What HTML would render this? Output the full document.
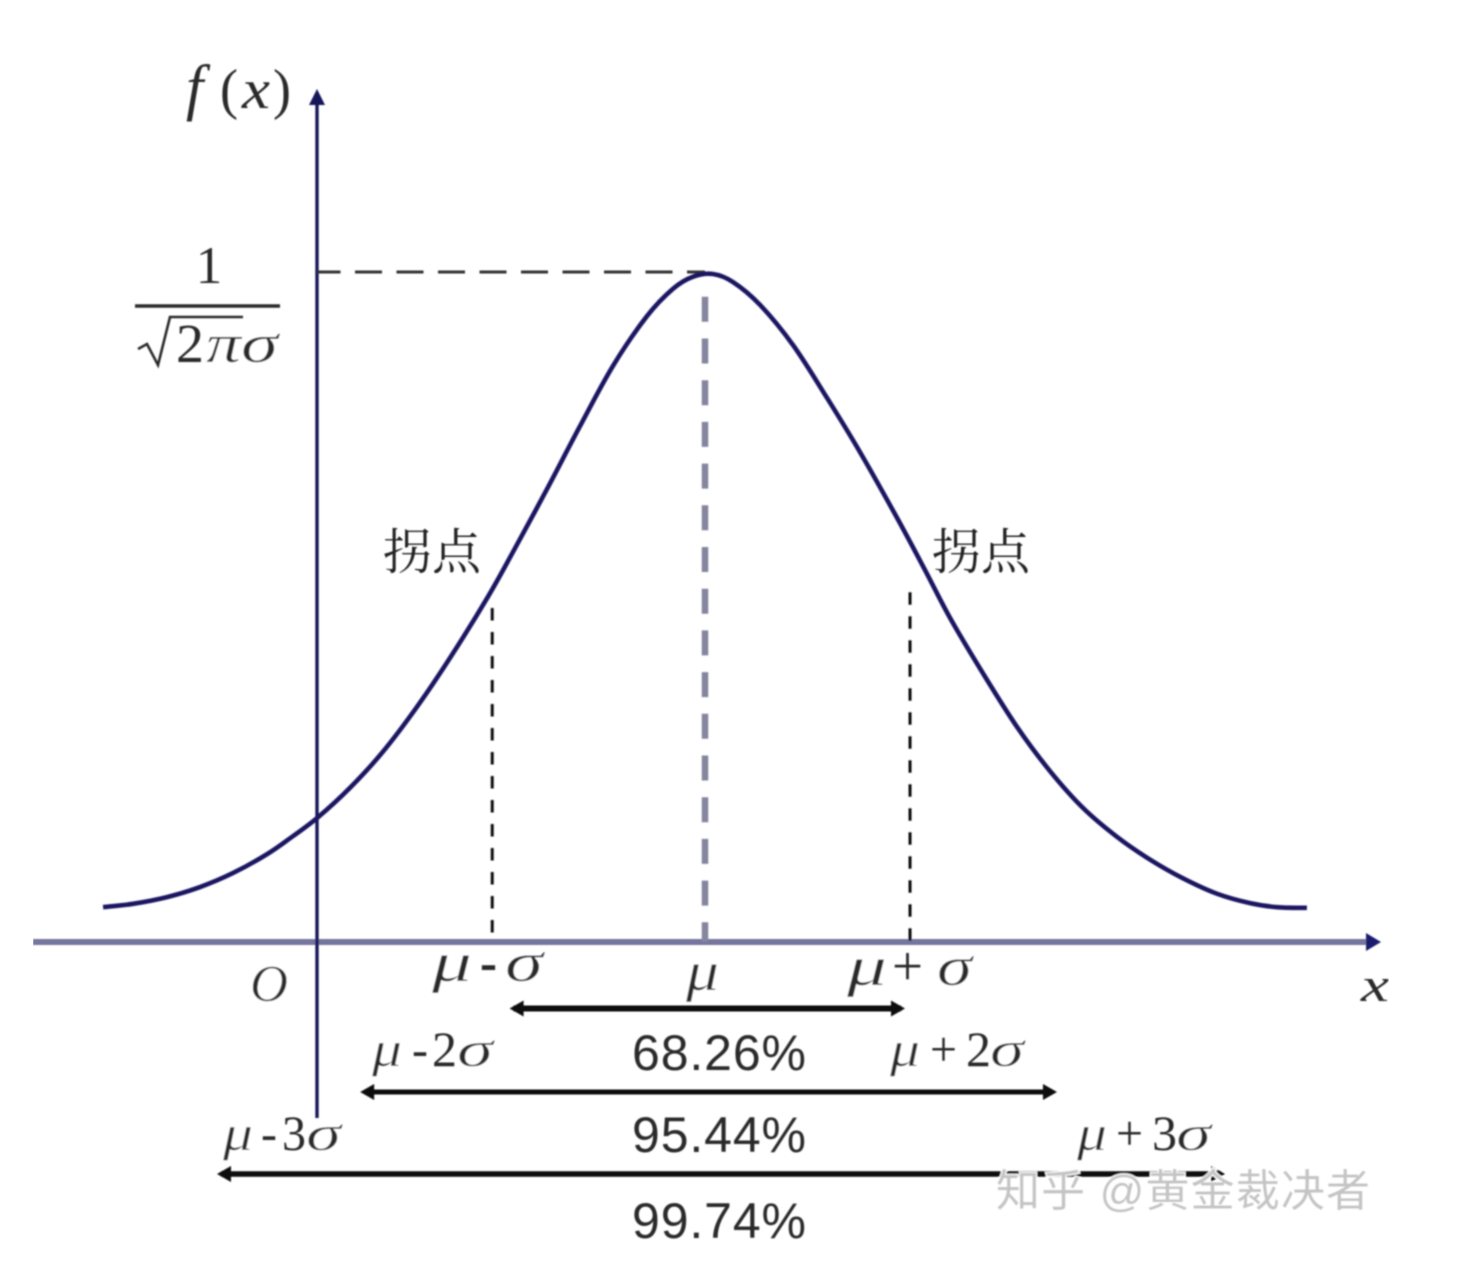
<!DOCTYPE html>
<html lang="zh">
<head>
<meta charset="utf-8">
<title>Normal distribution curve</title>
<style>
html,body{margin:0;padding:0;background:#fff;width:1476px;height:1276px;overflow:hidden}
svg{display:block}
.m{font-family:"Liberation Serif","Noto Serif CJK SC",serif;fill:#2a2a2a}
.i{font-style:italic;stroke:#fff;stroke-width:0.5px}
.p{font-family:"Liberation Sans","Noto Sans CJK SC",sans-serif;font-size:50px;fill:#2b2b2b}
.c{font-family:"Liberation Serif","Noto Serif CJK SC",serif;font-size:49px;fill:#222}
.t{font-size:56px}
.s{font-size:50px}
</style>
</head>
<body>
<svg id="chart" xmlns="http://www.w3.org/2000/svg" width="1476" height="1276" viewBox="0 0 1476 1276">
<defs>
<filter id="soft" x="0" y="0" width="100%" height="100%"><feGaussianBlur stdDeviation="0.8"/></filter>
</defs>
<g filter="url(#soft)">
<g id="marks"></g>

<g>
<text class="m" x="186" y="108" font-size="62" font-style="italic">f</text>
<text class="m" x="220" y="108" font-size="56" textLength="18" lengthAdjust="spacingAndGlyphs">(</text>
<text class="m" x="242" y="108" font-size="56" font-style="italic" textLength="28" lengthAdjust="spacingAndGlyphs">x</text>
<text class="m" x="273" y="108" font-size="56" textLength="18" lengthAdjust="spacingAndGlyphs">)</text>
</g>
<g>
<text class="m" x="209" y="283" font-size="53" text-anchor="middle">1</text>
<line x1="135" y1="306" x2="280" y2="306" stroke="#2a2a2a" stroke-width="3.5"/>
<polyline points="138,349 147,344 158,365 170,317 243,317" fill="none" stroke="#2a2a2a" stroke-width="2.6"/>
<text class="m" x="176" y="362" font-size="55" textLength="28" lengthAdjust="spacingAndGlyphs">2</text>
<text class="m i" x="206" y="362" font-size="55" textLength="35" lengthAdjust="spacingAndGlyphs">π</text>
<text class="m i" x="241" y="362" font-size="55" textLength="37" lengthAdjust="spacingAndGlyphs">σ</text>
</g>

<text class="m i" x="250" y="1001" font-size="52" textLength="38" lengthAdjust="spacingAndGlyphs">O</text>
<text class="m" x="1361" y="1001" font-size="48" font-style="italic" textLength="28" lengthAdjust="spacingAndGlyphs">x</text>

<g>
<text class="m i t" x="432" y="981" textLength="40" lengthAdjust="spacingAndGlyphs">μ</text>
<text class="m t" x="480" y="981" font-weight="bold" textLength="17" lengthAdjust="spacingAndGlyphs">-</text>
<text class="m i t" x="505" y="981" textLength="38" lengthAdjust="spacingAndGlyphs">σ</text>
</g>
<text class="m i t" x="686" y="990" textLength="33" lengthAdjust="spacingAndGlyphs">μ</text>
<g>
<text class="m i t" x="847" y="985" textLength="40" lengthAdjust="spacingAndGlyphs">μ</text>
<text class="m t" x="892" y="985" textLength="31" lengthAdjust="spacingAndGlyphs">+</text>
<text class="m i t" x="937" y="985" textLength="35" lengthAdjust="spacingAndGlyphs">σ</text>
</g>
<g>
<text class="m i s" x="372" y="1066" textLength="30" lengthAdjust="spacingAndGlyphs">μ</text>
<text class="m s" x="412" y="1066" textLength="16" lengthAdjust="spacingAndGlyphs">-</text>
<text class="m s" x="432" y="1066" textLength="25" lengthAdjust="spacingAndGlyphs">2</text>
<text class="m i s" x="457" y="1066" textLength="36" lengthAdjust="spacingAndGlyphs">σ</text>
</g>
<g>
<text class="m i s" x="890" y="1066" textLength="30" lengthAdjust="spacingAndGlyphs">μ</text>
<text class="m s" x="930" y="1066" textLength="27" lengthAdjust="spacingAndGlyphs">+</text>
<text class="m s" x="966" y="1066" textLength="25" lengthAdjust="spacingAndGlyphs">2</text>
<text class="m i s" x="990" y="1066" textLength="34" lengthAdjust="spacingAndGlyphs">σ</text>
</g>
<g>
<text class="m i s" x="223" y="1150" textLength="30" lengthAdjust="spacingAndGlyphs">μ</text>
<text class="m s" x="261" y="1150" textLength="16" lengthAdjust="spacingAndGlyphs">-</text>
<text class="m s" x="282" y="1150" textLength="24" lengthAdjust="spacingAndGlyphs">3</text>
<text class="m i s" x="306" y="1150" textLength="35" lengthAdjust="spacingAndGlyphs">σ</text>
</g>
<g>
<text class="m i s" x="1077" y="1150" textLength="30" lengthAdjust="spacingAndGlyphs">μ</text>
<text class="m s" x="1116" y="1150" textLength="27" lengthAdjust="spacingAndGlyphs">+</text>
<text class="m s" x="1152" y="1150" textLength="25" lengthAdjust="spacingAndGlyphs">3</text>
<text class="m i s" x="1176" y="1150" textLength="35" lengthAdjust="spacingAndGlyphs">σ</text>
</g>

<text class="p" x="632" y="1070" textLength="174">68.26%</text>
<text class="p" x="632" y="1152" textLength="174">95.44%</text>
<text class="p" x="632" y="1238" textLength="174">99.74%</text>

<text class="c" x="383" y="569" textLength="98">拐点</text>
<text class="c" x="932" y="569" textLength="98">拐点</text>

<text x="996" y="1206" font-family="'Liberation Sans','Noto Sans CJK SC',sans-serif" font-size="44" fill="#c4c4c4" stroke="#fff" stroke-width="2.4" paint-order="stroke" textLength="374">知乎 @黄金裁决者</text>
</g>
</svg>
<script>
// Curve: position in sigma units from the mean, density relative to the peak
const curveSigma = [-2.880, -2.737, -2.574, -2.416, -2.258, -2.096, -1.976, -1.856, -1.699, -1.541, -1.378, -1.220, -1.043, -0.919, -0.756, -0.598, -0.440, -0.278, -0.153, -0.057, 0.038,
  0.134, 0.263, 0.421, 0.584, 0.742, 0.919, 1.053, 1.172, 1.330, 1.493, 1.651, 1.809, 1.971, 2.129, 2.287, 2.450, 2.608, 2.737, 2.880];
const curveDensity = [0.052, 0.057, 0.067, 0.082, 0.103, 0.131, 0.157, 0.185, 0.230, 0.284, 0.351, 0.424, 0.513, 0.582, 0.676, 0.770, 0.860, 0.934, 0.975, 0.993, 0.997,
  0.985, 0.951, 0.891, 0.812, 0.731, 0.633, 0.555, 0.484, 0.401, 0.321, 0.255, 0.200, 0.157, 0.123, 0.095, 0.072, 0.058, 0.052, 0.051];
// Vertical guides at mu - sigma, mu, mu + sigma
const guideSigma = [-1.018, 0, 0.981];
const guideDensity = [0.4985, 0.963, 0.522];
// Interval arrows under the axis
const intervalNames = ['one-sigma', 'two-sigma', 'three-sigma'];
const intervalLow = [-0.935, -1.65, -2.335];
const intervalHigh = [0.957, 1.684, 2.488];

function xScale(s) { return 705 + 209 * s; }
function yScale(d) { return 942 - 670 * d; }

const NS = 'http://www.w3.org/2000/svg';
const marks = document.getElementById('marks');
function add(tag, attrs) {
  const el = document.createElementNS(NS, tag);
  for (const k in attrs) el.setAttribute(k, attrs[k]);
  marks.appendChild(el);
  return el;
}

// x axis
const xAxis = add('line', { x1: 33, y1: 942, x2: 1368, y2: 942, stroke: '#74749f', 'stroke-width': 6 });


const xHead = add('polygon', { points: '1381,942 1366,933 1366,951', fill: '#1a1a6e' });



// y axis
const yAxis = add('line', { x1: 317, y1: 100, x2: 317, y2: 1118, stroke: '#14125a', 'stroke-width': 3.4 });


const yHead = add('polygon', { points: '317,89 309,105 325,105', fill: '#14125a' });



// peak reference line
const peakLine = add('line', { x1: 317, y1: 272, x2: xScale(0), y2: 272, stroke: '#333', 'stroke-width': 3, 'stroke-dasharray': '27 14.5', 'stroke-dashoffset': 3.5 });



// guides
guideSigma.forEach(function (s, i) {
  const center = s === 0;
  const g = add('line', {
    x1: xScale(s), y1: yScale(guideDensity[i]), x2: xScale(s), y2: 942,
    stroke: center ? '#85859f' : '#111',
    'stroke-width': center ? 6.5 : 3,
    'stroke-dasharray': center ? '25 16.7' : '12.5 11.5'
  });
  
  
});

// curve: smooth Catmull-Rom path through the read points
const pts = curveSigma.map(function (s, i) { return [xScale(s), yScale(curveDensity[i])]; });
let d = 'M' + pts[0][0] + ' ' + pts[0][1];
for (let i = 0; i < pts.length - 1; i++) {
  const p0 = pts[Math.max(i - 1, 0)], p1 = pts[i], p2 = pts[i + 1], p3 = pts[Math.min(i + 2, pts.length - 1)];
  d += ' C' + (p1[0] + (p2[0] - p0[0]) / 6) + ' ' + (p1[1] + (p2[1] - p0[1]) / 6) + ' ' +
    (p2[0] - (p3[0] - p1[0]) / 6) + ' ' + (p2[1] - (p3[1] - p1[1]) / 6) + ' ' + p2[0] + ' ' + p2[1];
}
const curve = add('path', { d: d, fill: 'none', stroke: '#1a1562', 'stroke-width': 4.6 });



// interval arrows
const arrowRows = [1008.5, 1092, 1174];
const arrowWidths = [6, 5, 5.5];
intervalNames.forEach(function (name, i) {
  const y = arrowRows[i];
  const a = xScale(intervalLow[i]), b = xScale(intervalHigh[i]);
  const line = add('line', { x1: a + 4, y1: y, x2: b - 4, y2: y, stroke: '#0a0a0a', 'stroke-width': arrowWidths[i] });
  
  
  const left = add('polygon', { points: a + ',' + y + ' ' + (a + 14) + ',' + (y - 8) + ' ' + (a + 14) + ',' + (y + 8), fill: '#0a0a0a' });
  
  
  const right = add('polygon', { points: b + ',' + y + ' ' + (b - 14) + ',' + (y - 8) + ' ' + (b - 14) + ',' + (y + 8), fill: '#0a0a0a' });
  
  
});
</script>
</body>
</html>
